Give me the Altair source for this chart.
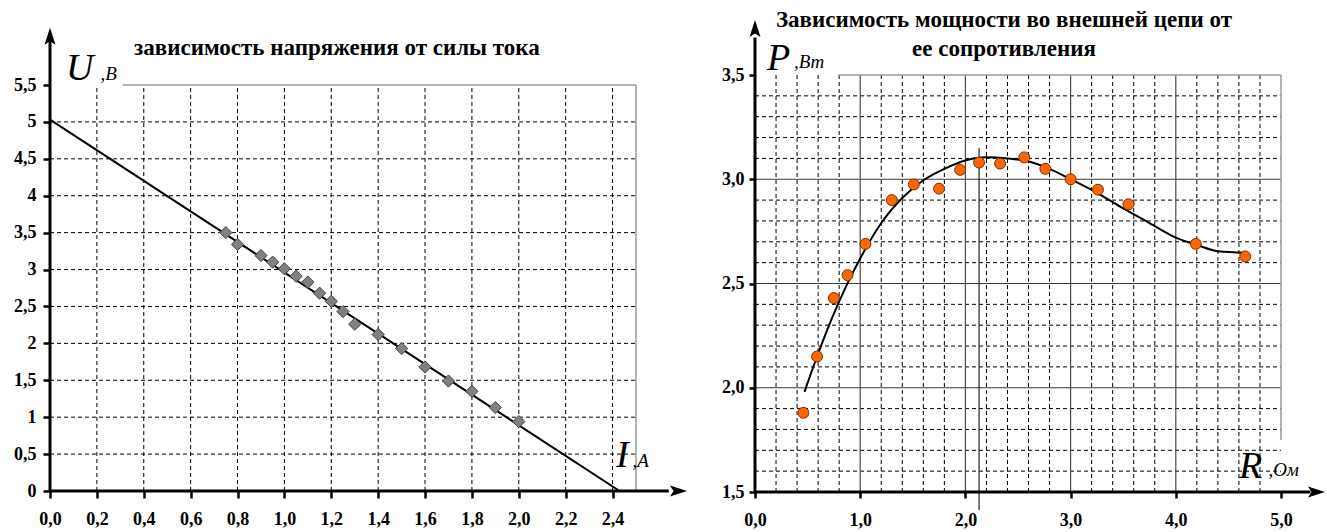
import altair as alt
import pandas as pd

# ---------------- Left panel: U(I) ----------------
I_meas = [0.75, 0.80, 0.90, 0.95, 1.00, 1.05, 1.10, 1.15, 1.20, 1.25, 1.30, 1.40, 1.50, 1.60, 1.70, 1.80, 1.90, 2.00]
U_meas = [3.50, 3.34, 3.19, 3.10, 3.01, 2.91, 2.83, 2.68, 2.57, 2.43, 2.26, 2.12, 1.93, 1.68, 1.49, 1.35, 1.13, 0.94]
I_fit = [0.0, 2.43]
U_fit = [5.03, 0.0]
I_ticks = [0.0, 0.2, 0.4, 0.6, 0.8, 1.0, 1.2, 1.4, 1.6, 1.8, 2.0, 2.2, 2.4]
U_ticks = [0.0, 0.5, 1.0, 1.5, 2.0, 2.5, 3.0, 3.5, 4.0, 4.5, 5.0, 5.5]
I_grid = [0.2, 0.4, 0.6, 0.8, 1.0, 1.2, 1.4, 1.6, 1.8, 2.0, 2.2, 2.4]
U_grid = [0.5, 1.0, 1.5, 2.0, 2.5, 3.0, 3.5, 4.0, 4.5, 5.0]
left_title = "зависимость напряжения от силы тока"

# ---------------- Right panel: P(R) ----------------
R_meas = [0.46, 0.59, 0.75, 0.88, 1.05, 1.30, 1.51, 1.75, 1.95, 2.13, 2.33, 2.56, 2.76, 3.00, 3.26, 3.55, 4.19, 4.66]
P_meas = [1.88, 2.15, 2.43, 2.54, 2.69, 2.90, 2.975, 2.955, 3.045, 3.08, 3.075, 3.105, 3.05, 3.00, 2.95, 2.88, 2.69, 2.63]
R_curve = [0.47, 0.59, 0.72, 0.86, 1.00, 1.20, 1.40, 1.60, 1.80, 2.00, 2.20, 2.40, 2.60, 2.80, 3.00, 3.25, 3.50, 3.75, 4.00, 4.20, 4.40, 4.66]
P_curve = [1.98, 2.15, 2.32, 2.48, 2.62, 2.79, 2.91, 2.995, 3.05, 3.09, 3.105, 3.10, 3.085, 3.05, 3.00, 2.935, 2.86, 2.79, 2.72, 2.685, 2.655, 2.648]
R_ticks = [0.0, 1.0, 2.0, 3.0, 4.0, 5.0]
P_ticks = [1.5, 2.0, 2.5, 3.0, 3.5]
R_grid_dash = [0.2, 0.4, 0.6, 0.8, 1.2, 1.4, 1.6, 1.8, 2.2, 2.4, 2.6, 2.8, 3.2, 3.4, 3.6, 3.8, 4.2, 4.4, 4.6, 4.8]
R_grid_solid = [1.0, 2.0, 3.0, 4.0]
P_grid_dash = [1.6, 1.7, 1.8, 1.9, 2.1, 2.2, 2.3, 2.4, 2.6, 2.7, 2.8, 2.9, 3.1, 3.2, 3.3, 3.4]
P_grid_solid = [2.0, 2.5, 3.0]
R_max = [2.13]
right_title = ["Зависимость мощности во внешней цепи от", "ее сопротивления"]

SERIF = "'Liberation Serif', 'Times New Roman', 'DejaVu Serif', serif"
ARROW = "M0,-1L0.55,0.7L0,0.35L-0.55,0.7Z"
COMMA1 = "replace(format(datum.value, '.1f'), '.', ',')"

# ---------------- scales & axes ----------------
xL = alt.Scale(domain=[0, 2.5], range=[50, 636], nice=False, zero=False)
yL = alt.Scale(domain=[0, 5.5], range=[491, 85], nice=False, zero=False)
xR = alt.Scale(domain=[0, 5], range=[755, 1281], nice=False, zero=False)
yR = alt.Scale(domain=[1.5, 3.5], range=[492, 75], nice=False, zero=False)

lab = dict(labelFont=SERIF, labelFontSize=18, labelFontWeight="bold", labelColor="black",
           labelFlush=False, labelOverlap=False, domain=False, grid=False,
           tickColor="black", tickWidth=2.5, title="")

axXL = alt.Axis(values=I_ticks, orient="bottom", offset=-41, tickSize=7, labelPadding=12,
                labelExpr=COMMA1, **lab)
axYL = alt.Axis(values=U_ticks, orient="left", offset=-50, tickSize=7, labelPadding=7,
                labelExpr="replace(toString(datum.value), '.', ',')", **lab)
axXR = alt.Axis(values=R_ticks, orient="bottom", offset=-40, tickSize=6, labelPadding=13,
                labelExpr=COMMA1, **lab)
axYR = alt.Axis(values=P_ticks, orient="left", offset=-755, tickSize=6, labelPadding=5,
                labelExpr=COMMA1, **lab)


def encL(ch, **kw):
    return ch.encode(x=alt.X("x:Q", scale=xL, axis=axXL), y=alt.Y("y:Q", scale=yL, axis=axYL), **kw)


def encR(ch, **kw):
    return ch.encode(x=alt.X("x:Q", scale=xR, axis=axXR), y=alt.Y("y:Q", scale=yR, axis=axYR), **kw)


def df(**cols):
    return pd.DataFrame(cols)


def text_layer(enc, x, y, t, align="left", **style):
    return enc(alt.Chart(df(x=[x], y=[y], t=[t])).mark_text(font=SERIF, color="black", align=align,
                                                          baseline="alphabetic", **style), text="t:N")


dash = dict(strokeDash=[4, 3], color="black", strokeWidth=1)

# ---------------- left panel layers ----------------
L_layers = [
    encL(alt.Chart(df(y=U_grid, x=0.0, x2=2.5)).mark_rule(**dash), x2=alt.X2("x2")),
    encL(alt.Chart(df(x=I_grid, y=0.0, y2=5.5)).mark_rule(**dash), y2=alt.Y2("y2")),
    encL(alt.Chart(df(y=[5.5], x=0.31, x2=2.5)).mark_rule(color="#9a9a9a", strokeWidth=1.5), x2=alt.X2("x2")),
    encL(alt.Chart(df(x=[2.5], y=0.0, y2=5.5)).mark_rule(color="#9a9a9a", strokeWidth=1.5), y2=alt.Y2("y2")),
    encL(alt.Chart(df(x=I_fit, y=U_fit)).mark_line(color="black", strokeWidth=2)),
    encL(alt.Chart(df(x=I_meas, y=U_meas)).mark_point(shape="diamond", filled=True, size=150,
                                                      fill="#808080", stroke="#444444",
                                                      strokeWidth=1, opacity=1)),
    encL(alt.Chart(df(x=[0.0], y=0.0, y2=6.1)).mark_rule(color="black", strokeWidth=3), y2=alt.Y2("y2")),
    encL(alt.Chart(df(y=[0.0], x=0.0, x2=2.64)).mark_rule(color="black", strokeWidth=3), x2=alt.X2("x2")),
    encL(alt.Chart(df(x=[0.0], y=[6.14])).mark_point(shape=ARROW, filled=True, size=400,
                                                   color="black", opacity=1)),
    encL(alt.Chart(df(x=[2.675], y=[0.0])).mark_point(shape=ARROW, filled=True, size=400, angle=90,
                                                    color="black", opacity=1)),
    text_layer(encL, 1.224, 5.908, left_title, align="center", fontSize=23, fontWeight="bold"),
    text_layer(encL, 0.068, 5.57, "U", fontSize=38, fontStyle="italic"),
    text_layer(encL, 0.215, 5.57, ",В", fontSize=19, fontStyle="italic"),
    text_layer(encL, 2.415, 0.325, "I", fontSize=38, fontStyle="italic"),
    text_layer(encL, 2.485, 0.325, ",А", fontSize=19, fontStyle="italic"),
]
left = alt.layer(*L_layers)

# ---------------- right panel layers ----------------
R_layers = [
    encR(alt.Chart(df(y=P_grid_dash, x=0.0, x2=5.0)).mark_rule(**dash), x2=alt.X2("x2")),
    encR(alt.Chart(df(x=R_grid_dash, y=1.5, y2=3.5)).mark_rule(**dash), y2=alt.Y2("y2")),
    encR(alt.Chart(df(y=P_grid_solid, x=0.0, x2=5.0)).mark_rule(color="#3a3a3a", strokeWidth=1.2), x2=alt.X2("x2")),
    encR(alt.Chart(df(x=R_grid_solid, y=1.5, y2=3.5)).mark_rule(color="#4a4a4a", strokeWidth=1.2), y2=alt.Y2("y2")),
    encR(alt.Chart(df(y=[3.5], x=0.79, x2=5.0)).mark_rule(color="#9a9a9a", strokeWidth=1.5), x2=alt.X2("x2")),
    encR(alt.Chart(df(x=[5.0], y=1.75, y2=3.5)).mark_rule(color="#9a9a9a", strokeWidth=1.5), y2=alt.Y2("y2")),
    encR(alt.Chart(df(x=R_max, y=1.414, y2=3.15)).mark_rule(color="#222222", strokeWidth=1.2), y2=alt.Y2("y2")),
    encR(alt.Chart(df(x=R_curve, y=P_curve)).mark_line(color="black", strokeWidth=2, interpolate="monotone")),
    encR(alt.Chart(df(x=R_meas, y=P_meas)).mark_point(shape="circle", filled=True, size=120,
                                                      fill="#FF6600", stroke="#7a3000",
                                                      strokeWidth=1, opacity=1)),
    encR(alt.Chart(df(x=[0.0], y=1.5, y2=3.68)).mark_rule(color="black", strokeWidth=3), y2=alt.Y2("y2")),
    encR(alt.Chart(df(y=[1.5], x=0.0, x2=5.28)).mark_rule(color="black", strokeWidth=3), x2=alt.X2("x2")),
    encR(alt.Chart(df(x=[0.0], y=[3.716])).mark_point(shape=ARROW, filled=True, size=400,
                                                    color="black", opacity=1)),
    encR(alt.Chart(df(x=[5.323], y=[1.5])).mark_point(shape=ARROW, filled=True, size=400, angle=90,
                                                    color="black", opacity=1)),
    text_layer(encR, 2.367, 3.730, right_title[0], align="center", fontSize=23, fontWeight="bold"),
    text_layer(encR, 2.367, 3.591, right_title[1], align="center", fontSize=23, fontWeight="bold"),
    text_layer(encR, 0.114, 3.524, "P", fontSize=38, fontStyle="italic"),
    text_layer(encR, 0.37, 3.534, ",Вт", fontSize=19, fontStyle="italic"),
    text_layer(encR, 4.60, 1.567, "R", fontSize=38, fontStyle="italic"),
    text_layer(encR, 4.88, 1.577, ",Ом", fontSize=19, fontStyle="italic"),
]
right = alt.layer(*R_layers)

chart = (
    alt.layer(left, right)
    .resolve_scale(x="independent", y="independent")
    .properties(width=1327, height=532, autosize=alt.AutoSizeParams(type="none"), padding=0,
                background="white")
    .configure_view(strokeWidth=0)
)

chart.save("out.html", embed_options={"renderer": "svg", "actions": False})
